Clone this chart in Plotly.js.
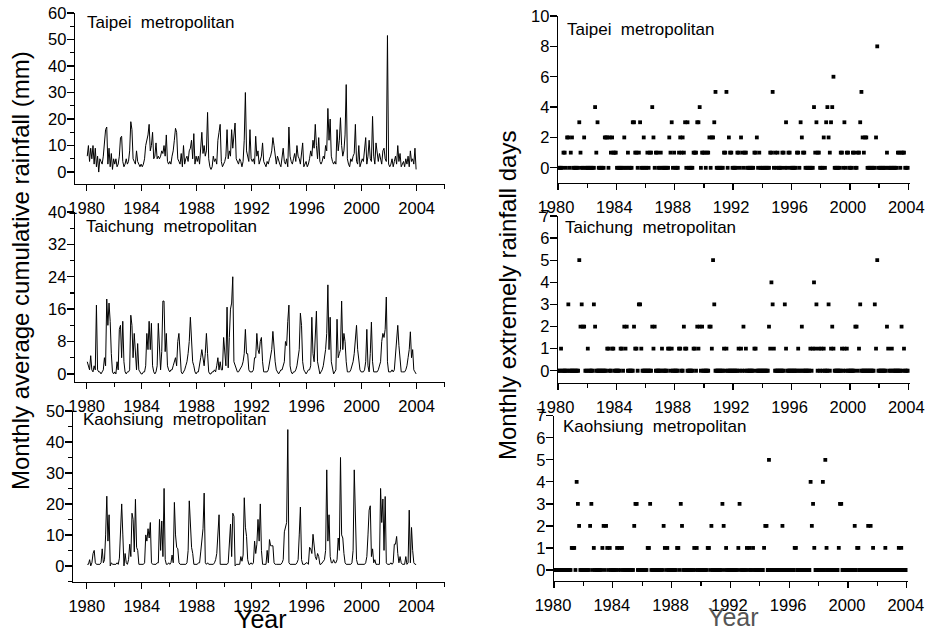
<!DOCTYPE html>
<html>
<head>
<meta charset="utf-8">
<script src="https://cdn.plot.ly/plotly-3.0.1.min.js"></script>
<style>html,body{margin:0;padding:0;background:#fff;}#chart{width:925px;height:634px;}</style>
</head>
<body>
<div id="chart"></div>
<script>
// ---- data (monthly, Jan 1980 - Dec 2003, one row per year) ----
const firstYear = 1980;
const lastYear = 2003;
const xTickVals = [1980, 1984, 1988, 1992, 1996, 2000, 2004];
const xMinorVals = [1982, 1986, 1990, 1994, 1998, 2002, 2006];

const taipeiRain = [
 [6,10,4,9,5,10,3,9,2,6,0,5],
 [4,3,6,10,16,17,3,9,2,7,1,5],
 [3,5,2,3,6,13,13.5,4,2,3,5,3],
 [4,8,19,16,5,4,3,8,4,3,2,3],
 [2,3,5,10,12,14,18,8,10,15,5,6],
 [11,5,6,5,6,8,7,10,6,14,4,3],
 [4,3,6,8,12,16.5,15,5,4,3,7,2],
 [10,3,5,6,4,8,9,12,5,14.5,3,6],
 [4,6,3,8,15,7,10,6,8,22.5,5,2],
 [1,2,6,4,5,3,12,15,18,4,2,3],
 [4,6,16,5,8,6,16,9,15,18.5,5,4],
 [3,5,4,2,4,12,30,8,6,4,16,5],
 [4,5,3,13.5,6,8,3,5,6,11,4,3],
 [2,4,3,5,6,8,13,10,5,3,6,4],
 [3,2,6,9,4,3,5,2,17,6,4,3],
 [5,7,4,10,6,5,3,8,11,2,3,4],
 [2,3,5,8,6,12,9,18,10,5,13,4],
 [3,4,6,5,10,8,24,12,20,6,4,3],
 [4,3,16,8,12,20.5,10,6,8,14,33,5],
 [3,2,5,4,6,7,18,4,3,10,2,4],
 [5,4,8,13,3,6,12,5,4,21,6,3],
 [11,6,4,7,5,3,8,9,5,4,51.5,3],
 [2,3,5,2,4,6,3,10,4,7,2,3],
 [4,2,5,3,6,2,8,4,5,3,9,1]
];
const taichungRain = [
 [3,2,1,4.5,1,0.5,2,1,17,1,0.5,0.5],
 [0,0.5,1,4,2,18.5,12,17.5,13,5,0.5,0],
 [0.5,0,3,1,11,12,4,13,3,0.5,0,0.5],
 [0.5,1,14.5,12,4,10,3.5,1,7.5,1,0.5,0],
 [0,0.5,0.5,2,10,6,13,6,12.5,2,0.5,0],
 [0.5,2,12.5,4,1,5.5,18,18,5.5,10,2,1],
 [0.5,1,1,2,3,4,2,8,10,3,0.5,0],
 [0.5,1,2,3,5,8,14,8,3,2,0.5,0],
 [0.5,0.5,2,4,6,3.5,2,5,10,5,0.5,0],
 [0,0.5,0.5,1,0.5,2,4,1,3,1,1,9],
 [5,2,16.5,1.5,9,16,17.5,24,3,2,1,0.5],
 [0.5,1,1.5,2,3,5,11,5,5,1,0.5,0.5],
 [0.5,1,4,4,10,6,5,8,9,3,0.5,0.5],
 [0.5,0.5,1,3,4,6,10.5,6,3,1,0.5,0],
 [0.5,1,1,2,3,8,7,13,17,2,0.5,0],
 [0.5,0.5,1,2,4,6,15,12,3,1,0.5,0],
 [0.5,1,1,2,14,5,3,12,15.5,3,1,0],
 [0.5,1,2,4,6,10,22,6,14,3,1,0],
 [0.5,1,13.5,4,5,6,18,6,10,8,3,0.5],
 [0.5,0.5,1,2,3,5,9,12,6,3,1,0.5],
 [0.5,0.5,1,3,11,2,0.5,5,12.8,3,0.5,0.5],
 [0.5,0.5,1,2,3,8,10,9,11,19,3,0.5],
 [0.5,0.5,1,0.5,1,5,8,12,7,3,0.5,0.5],
 [0.5,0.5,1,2,4,6,10.4,4,6,1,0.5,0]
];
const kaohsiungRain = [
 [0.5,0.5,2,0,1,4,5,1,0.5,0.5,0.5,0.5],
 [1,5.5,1,2,10,22.5,8,16.5,0,1,0.5,0.5],
 [0.5,0.5,1,0.5,2.5,10,20,10,0,4,1,0.5],
 [2,7,3,17,15,4.5,21.5,6,5,0.5,0.5,0.5],
 [0.5,0.5,1,10,8,12,9,14,1,0.5,0.5,0.5],
 [0.5,1,1,15,5,14.5,3,25,2,0.5,0.5,1],
 [0.5,1,3.5,1,20.5,10,6,5.5,1,0.5,0.5,0.5],
 [0.5,0.5,0.5,1,5,21,10,6,4,0.5,0.5,0.5],
 [0.5,1,1,4.5,8,12,23.5,1,0.5,1,0.5,0.5],
 [0.5,0.5,0.5,1,2,4,10,16.5,0.5,0.5,0.5,0.5],
 [0.5,0.5,0.5,1,6.5,13.5,3,17,16,0,0.5,0.5],
 [0.5,0.5,3,1.5,3.5,22,12.5,9.5,2,0.5,0.5,1],
 [0.5,1,8,4,7,15,8,20,5,0.5,0.5,0.5],
 [0.5,5,1,8.5,6.5,6.5,6.5,1,0.5,0.5,0.5,0.5],
 [0.5,0.5,1,2,11,12.5,14,44,1,0.5,0.5,0.5],
 [0.5,0.5,0.5,1,2,10,19,2,0.5,0.5,0.5,1],
 [1,0.5,6,5.5,4,10.2,7,3,2,4,3,0.5],
 [0.5,1,1.5,2,5,31,8,16.5,3,1,1,2],
 [1,1,2,9,5,35,10,9,4,1,0.5,0.5],
 [0.5,0.5,0.5,1,5,31,12,2,0.5,0.5,0.5,0.5],
 [0.5,0.5,0.5,1,3,10,18,19.4,3,5.5,1,2],
 [0.5,0.5,0.5,0.5,25,14,21.6,5,22.4,1,0.5,0.5],
 [0.5,1,0.5,1,7,7,9.5,4,1,3,1,0.5],
 [0.5,0.5,3,0.5,1,18,1,12.4,5,1,0.5,0.5]
];
const taipeiDays = [
 [0,0,0,0,1,1,0,2,2,0,1,2],
 [0,0,0,0,0,3,1,0,0,2,0,0],
 [0,0,0,0,0,0,4,1,3,0,0,0],
 [0,0,2,2,2,0,2,1,2,1,1,1],
 [0,0,0,0,0,0,2,0,0,1,0,0],
 [0,3,3,1,1,0,1,3,0,0,2,0],
 [0,1,0,1,1,4,2,0,1,1,0,0],
 [1,0,0,0,0,0,0,2,1,3,0,1],
 [0,0,0,1,2,1,2,1,3,0,3,0],
 [0,0,0,1,1,1,3,3,4,0,1,1],
 [1,0,1,1,2,0,2,2,3,5,0,0],
 [0,0,0,0,1,1,5,0,2,1,1,0],
 [0,0,0,1,1,0,2,1,0,1,1,0],
 [0,0,0,0,0,1,1,2,0,1,0,0],
 [0,0,0,0,0,0,1,1,5,0,1,0],
 [1,0,0,0,1,1,0,3,0,1,1,0],
 [0,0,0,0,1,1,0,3,2,1,1,0],
 [0,0,0,0,0,0,4,1,3,1,1,0],
 [0,0,2,0,3,4,2,1,3,4,6,0],
 [0,0,0,0,1,1,0,3,0,1,1,0],
 [0,0,1,1,0,0,1,1,3,5,2,1],
 [2,2,0,0,0,0,0,0,0,2,8,0],
 [0,0,0,0,0,0,1,0,0,0,0,0],
 [0,0,0,1,1,0,1,1,1,0,0,0]
];
const taichungDays = [
 [0,0,1,0,0,0,0,0,3,0,0,0],
 [0,0,0,0,0,5,2,3,2,2,0,0],
 [1,0,0,0,0,3,2,0,0,0,0,0],
 [0,0,0,0,1,1,0,0,1,1,0,0],
 [0,0,0,1,1,0,2,1,2,0,0,0],
 [0,0,2,1,1,0,3,3,1,0,0,0],
 [0,0,0,0,0,2,1,2,0,0,0,0],
 [0,1,0,0,0,0,1,1,0,1,0,0],
 [0,0,0,1,1,0,0,2,1,1,0,0],
 [0,0,0,1,1,0,2,1,2,0,2,0],
 [0,0,0,0,2,2,1,5,3,0,0,0],
 [0,0,0,0,1,0,1,0,0,0,0,0],
 [0,0,0,0,1,0,1,0,2,0,1,0],
 [0,0,0,0,0,1,1,0,0,0,0,0],
 [0,0,0,0,0,2,1,4,3,1,0,0],
 [0,0,0,0,0,0,3,1,0,0,0,0],
 [0,0,0,0,0,1,0,0,2,0,0,0],
 [0,0,0,1,0,1,4,1,3,0,1,0],
 [1,0,1,0,0,0,3,0,1,2,1,0],
 [0,0,0,0,0,1,0,1,0,1,0,0],
 [0,0,0,0,2,2,0,1,3,0,0,0],
 [0,0,0,0,0,0,0,0,3,1,5,0],
 [0,0,0,0,0,0,2,1,0,0,1,0],
 [0,0,0,0,0,0,2,0,1,0,0,0]
];
const kaohsiungDays = [
 [0,0,0,0,0,0,0,0,0,0,0,0],
 [0,0,1,1,1,0,4,3,2,0,0,0],
 [0,0,0,0,0,2,3,0,1,0,0,0],
 [0,0,0,1,2,0,2,1,0,1,0,0],
 [0,0,0,1,0,1,0,1,0,0,0,0],
 [0,0,0,0,0,2,3,3,0,0,0,0],
 [0,0,0,0,1,1,3,0,0,0,0,0],
 [0,0,0,0,0,2,1,0,1,0,0,0],
 [0,0,0,0,1,1,0,3,2,0,0,0],
 [0,0,0,0,0,0,1,0,1,0,0,0],
 [0,0,0,0,0,1,1,0,2,0,0,0],
 [0,0,0,0,0,3,2,0,1,0,0,0],
 [0,0,0,0,0,0,1,3,0,0,0,0],
 [0,1,0,1,0,0,1,0,0,0,0,0],
 [0,0,0,1,2,2,0,5,0,0,0,0],
 [0,0,0,0,0,0,2,0,0,0,0,0],
 [0,0,0,0,1,1,0,0,0,0,0,0],
 [0,0,0,0,0,4,2,3,1,0,0,0],
 [0,0,0,4,0,5,1,0,0,0,0,0],
 [0,0,0,0,1,3,3,0,0,0,0,0],
 [0,0,0,0,0,2,0,1,1,0,0,0],
 [0,0,0,0,2,0,2,0,1,0,0,0],
 [0,0,0,0,0,0,1,0,0,0,0,0],
 [0,0,0,0,0,1,0,1,0,0,0,0]
];
const panelTitles = ['Taipei\u00a0 metropolitan', 'Taichung\u00a0 metropolitan', 'Kaohsiung\u00a0 metropolitan'];
const leftYTitle = 'Monthly average cumulative rainfall (mm)';
const rightYTitle = 'Monthly extremely rainfall days';
const xTitle = 'Year';

// ---- month positions (middle of each month) ----
const monthX = [];
for (let y = firstYear; y <= lastYear; y++) {
  for (let m = 0; m < 12; m++) monthX.push(y + (m + 0.5) / 12);
}
const flat = a => a.flat();

const FONT = 'Liberation Sans, Arial, Helvetica, sans-serif';
const W = 925, H = 634;
const px = v => v / W;
const py = v => 1 - v / H;
const TICKSIZE = 16.5;

function xAxis(d0, d1, range, anchor, shift) {
  return {
    domain: [px(d0), px(d1)], range: range, anchor: anchor,
    showline: true, linecolor: '#000', linewidth: 1.3,
    ticks: 'outside', ticklen: 6, tickwidth: 1.3, tickcolor: '#000',
    tickmode: 'array', tickvals: xTickVals, ticktext: xTickVals.map(String),
    ticklabelstandoff: 3, ticklabelshift: shift || 0, ticklabeloverflow: 'allow',
    minor: { tickmode: 'array', tickvals: xMinorVals, ticks: 'outside', ticklen: 4, tickwidth: 1.3, tickcolor: '#000', showgrid: false },
    showgrid: false, zeroline: false,
    tickfont: { family: FONT, size: TICKSIZE, color: '#000' }
  };
}
function yAxis(d0, d1, range, anchor, vals, minorVals) {
  const ax = {
    domain: [py(d0), py(d1)], range: range, anchor: anchor,
    showline: true, linecolor: '#000', linewidth: 1.3,
    ticks: 'outside', ticklen: 7, tickwidth: 1.3, tickcolor: '#000',
    tickmode: 'array', tickvals: vals, ticktext: vals.map(String),
    ticklabelstandoff: -3, ticklabeloverflow: 'allow',
    showgrid: false, zeroline: false,
    tickfont: { family: FONT, size: TICKSIZE, color: '#000' }
  };
  if (minorVals) ax.minor = { tickmode: 'array', tickvals: minorVals, ticks: 'outside', ticklen: 4, tickwidth: 1.3, tickcolor: '#000', showgrid: false };
  return ax;
}

const lineStyle = { color: '#000', width: 1 };
const markerStyle = { color: '#000', symbol: 'square', size: 3.8, line: { width: 0 } };

const traces = [
  { x: monthX, y: flat(taipeiRain), xaxis: 'x', yaxis: 'y', mode: 'lines', line: lineStyle, hoverinfo: 'skip' },
  { x: monthX, y: flat(taichungRain), xaxis: 'x2', yaxis: 'y2', mode: 'lines', line: lineStyle, hoverinfo: 'skip' },
  { x: monthX, y: flat(kaohsiungRain), xaxis: 'x3', yaxis: 'y3', mode: 'lines', line: lineStyle, hoverinfo: 'skip' },
  { x: monthX, y: flat(taipeiDays), xaxis: 'x4', yaxis: 'y4', mode: 'markers', marker: markerStyle, hoverinfo: 'skip' },
  { x: monthX, y: flat(taichungDays), xaxis: 'x5', yaxis: 'y5', mode: 'markers', marker: markerStyle, hoverinfo: 'skip' },
  { x: monthX, y: flat(kaohsiungDays), xaxis: 'x6', yaxis: 'y6', mode: 'markers', marker: markerStyle, hoverinfo: 'skip' }
];

function ann(text, x, y, size, opts) {
  return Object.assign({ text: text, x: x, y: y, xref: 'paper', yref: 'paper', showarrow: false,
    xanchor: 'left', yanchor: 'middle', borderpad: 0, font: { family: FONT, size: size, color: '#000' } }, opts || {});
}

const layout = {
  width: W, height: H, margin: { l: 0, r: 0, t: 0, b: 0 },
  paper_bgcolor: '#fff', plot_bgcolor: '#fff', showlegend: false,
  xaxis:  xAxis(75, 445, [1979.15, 2006.06], 'y'),
  yaxis:  yAxis(184, 13, [-4.5, 60], 'x', [0,10,20,30,40,50,60], [5,15,25,35,45,55]),
  xaxis2: xAxis(75, 445, [1979.15, 2006.06], 'y2'),
  yaxis2: yAxis(382, 212, [-2, 40], 'x2', [0,8,16,24,32,40], [4,12,20,28,36]),
  xaxis3: xAxis(73, 445, [1979.0, 2006.06], 'y3'),
  yaxis3: yAxis(582, 411, [-5.2, 50], 'x3', [0,10,20,30,40,50], [-5,5,15,25,35,45]),
  xaxis4: xAxis(558, 910, [1980, 2004.12], 'y4', -2),
  yaxis4: yAxis(183, 16, [-1, 10], 'x4', [0,2,4,6,8,10], null),
  xaxis5: xAxis(558, 910, [1980, 2004.12], 'y5', -2),
  yaxis5: yAxis(382.7, 216, [-0.54, 7], 'x5', [0,1,2,3,4,5,6,7], null),
  xaxis6: xAxis(554, 907.5, [1980, 2004.05], 'y6', -1),
  yaxis6: yAxis(581, 415.7, [-0.5, 7], 'x6', [0,1,2,3,4,5,6,7], null),
  annotations: [
    ann(panelTitles[0], px(86), py(23), 17),
    ann(panelTitles[1], px(85), py(226), 17),
    ann(panelTitles[2], px(82), py(419), 17),
    ann(panelTitles[0], px(566), py(29), 17),
    ann(panelTitles[1], px(564), py(227), 17),
    ann(panelTitles[2], px(562), py(426), 17),
    ann(leftYTitle, px(20), py(271), 24, { xanchor: 'center', textangle: -90 }),
    ann(rightYTitle, px(507), py(295), 24, { xanchor: 'center', textangle: -90 }),
    ann(xTitle, px(261), py(634), 25, { xanchor: 'center', yanchor: 'bottom' }),
    ann(xTitle, px(733), py(632), 25, { xanchor: 'center', yanchor: 'bottom', font: { family: FONT, size: 25, color: '#555' } })
  ]
};

Plotly.newPlot('chart', traces, layout, { staticPlot: true, displayModeBar: false });
</script>
</body>
</html>
